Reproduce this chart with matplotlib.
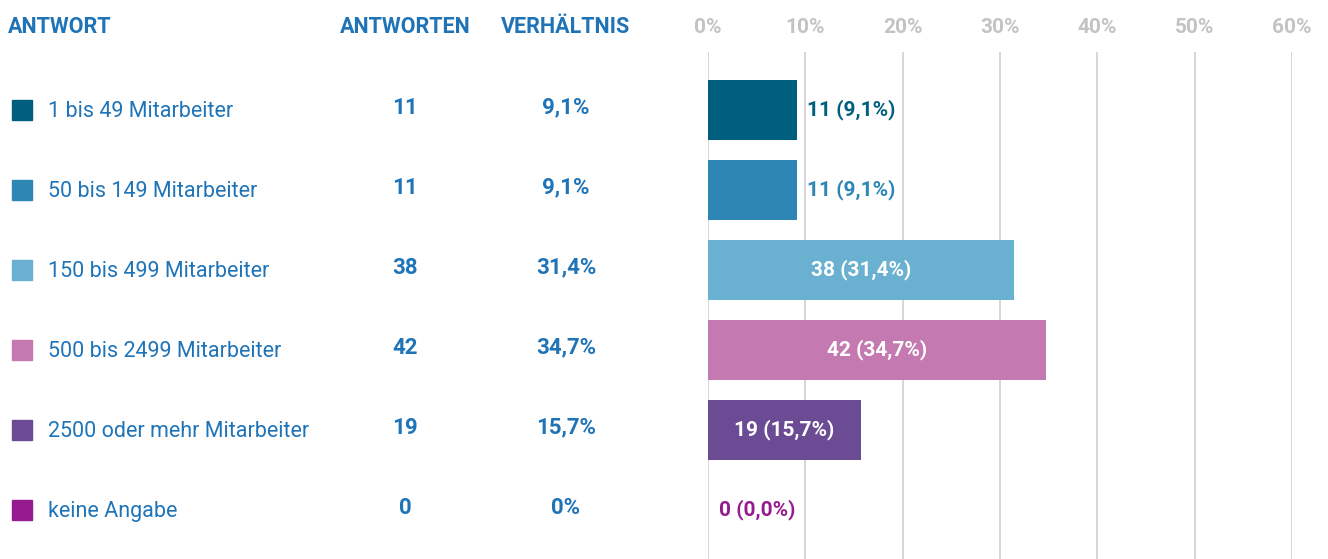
import matplotlib.pyplot as plt
import matplotlib.transforms as mtransforms
from matplotlib.patches import Rectangle
from matplotlib import font_manager

categories = ["1 bis 49 Mitarbeiter", "50 bis 149 Mitarbeiter", "150 bis 499 Mitarbeiter",
              "500 bis 2499 Mitarbeiter", "2500 oder mehr Mitarbeiter", "keine Angabe"]
counts = [11, 11, 38, 42, 19, 0]
percents = [9.1, 9.1, 31.4, 34.7, 15.7, 0.0]
pct_col = ["9,1%", "9,1%", "31,4%", "34,7%", "15,7%", "0%"]
colors = ["#005f7f", "#2e86b5", "#6ab0d0", "#c479b0", "#6b4c94", "#951b8f"]
ticks = [0, 10, 20, 30, 40, 50, 60]

names = {f.name for f in font_manager.fontManager.ttflist}
fam = "Liberation Sans Narrow" if "Liberation Sans Narrow" in names else "Roboto"
plt.rcParams['font.family'] = [fam, 'DejaVu Sans']

blue = "#1f74b8"
grey = "#c3c3c6"
W, H = 1328, 559

fig = plt.figure(figsize=(W / 100, H / 100), dpi=100)
ax = fig.add_axes([708 / W, 0, (1292 - 708) / W, (559 - 52) / H])
ax.set_xlim(0, 60)
ax.set_ylim(5.6125, -0.725)
for s in ax.spines.values():
    s.set_visible(False)
ax.set_yticks([])
ax.set_xticks(ticks)
ax.set_xticklabels([f"{t}%" for t in ticks])
ax.xaxis.tick_top()
ax.tick_params(axis='x', length=0, pad=11, labelsize=15, labelcolor=grey)
for lab in ax.get_xticklabels():
    lab.set_fontweight('bold')
ax.grid(axis='x', color="#cfcfd2", linewidth=1.2)
ax.set_axisbelow(True)

ypos = list(range(len(categories)))
ax.barh(ypos, percents, height=0.75, color=colors)

for i, (p, c) in enumerate(zip(percents, counts)):
    txt = f"{c} ({p:.1f}%)".replace(".", ",")
    if p > 12:
        ax.text(p / 2, i, txt, ha='center', va='center', color='white',
                fontsize=15, fontweight='bold')
    else:
        ax.text(p + 1.1, i, txt, ha='left', va='center', color=colors[i],
                fontsize=15, fontweight='bold')

tr = mtransforms.blended_transform_factory(fig.transFigure, ax.transData)
fig.text(8 / W, 1 - 27 / H, "ANTWORT", ha='left', va='center', color=blue,
         fontsize=15.5, fontweight='bold')
fig.text(405 / W, 1 - 27 / H, "ANTWORTEN", ha='center', va='center', color=blue,
         fontsize=15.5, fontweight='bold')
fig.text(566 / W, 1 - 27 / H, "VERHÄLTNIS", ha='center', va='center', color=blue,
         fontsize=15.5, fontweight='bold')

for i, cat in enumerate(categories):
    fig.patches.append(Rectangle((12 / W, i - 0.125), 20 / W, 0.25, transform=tr,
                                 color=colors[i]))
    fig.text(48 / W, i + 0.02, cat, transform=tr, ha='left', va='center',
             color=blue, fontsize=15.5)
    fig.text(405 / W, i - 0.03, str(counts[i]), transform=tr, ha='center',
             va='center', color=blue, fontsize=16, fontweight='bold')
    fig.text(566 / W, i - 0.03, pct_col[i], transform=tr, ha='center',
             va='center', color=blue, fontsize=16, fontweight='bold')

fig.savefig("out.png", dpi=100)
